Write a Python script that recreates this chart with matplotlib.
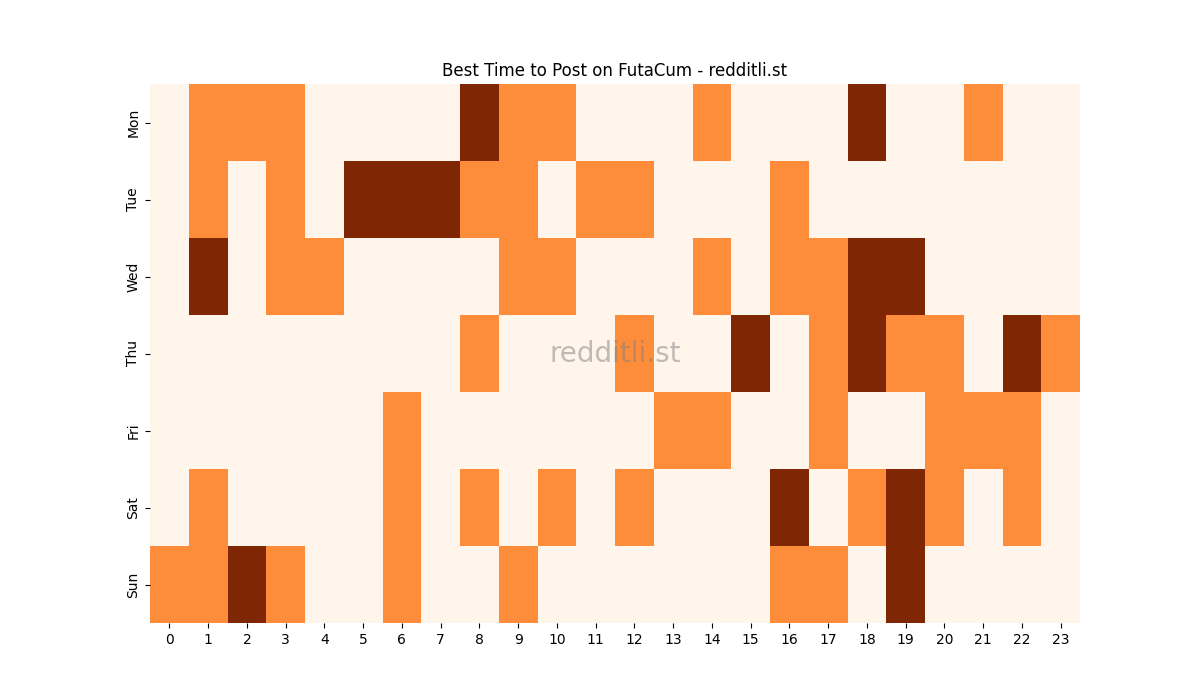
import matplotlib
matplotlib.use('Agg')
import matplotlib.pyplot as plt
import seaborn as sns
import numpy as np

# ── Data: 0 = quiet, 1 = good, 2 = best ──
days = ["Mon", "Tue", "Wed", "Thu", "Fri", "Sat", "Sun"]
hours = list(range(24))

mon = [0, 1, 1, 1, 0, 0, 0, 0, 2, 1, 1, 0, 0, 0, 1, 0, 0, 0, 2, 0, 0, 1, 0, 0]
tue = [0, 1, 0, 1, 0, 2, 2, 2, 1, 1, 0, 1, 1, 0, 0, 0, 1, 0, 0, 0, 0, 0, 0, 0]
wed = [0, 2, 0, 1, 1, 0, 0, 0, 0, 1, 1, 0, 0, 0, 1, 0, 1, 1, 2, 2, 0, 0, 0, 0]
thu = [0, 0, 0, 0, 0, 0, 0, 0, 1, 0, 0, 0, 1, 0, 0, 2, 0, 1, 2, 1, 1, 0, 2, 1]
fri = [0, 0, 0, 0, 0, 0, 1, 0, 0, 0, 0, 0, 0, 1, 1, 0, 0, 1, 0, 0, 1, 1, 1, 0]
sat = [0, 1, 0, 0, 0, 0, 1, 0, 1, 0, 1, 0, 1, 0, 0, 0, 2, 0, 1, 2, 1, 0, 1, 0]
sun = [1, 1, 2, 1, 0, 0, 1, 0, 0, 1, 0, 0, 0, 0, 0, 0, 1, 1, 0, 2, 0, 0, 0, 0]

grid = np.array([mon, tue, wed, thu, fri, sat, sun])

fig, ax = plt.subplots(figsize=(12, 7), dpi=100)
sns.heatmap(grid, cmap='Oranges', cbar=False, ax=ax,
            xticklabels=hours, yticklabels=days)
ax.set_yticklabels(days, rotation=90, va='center')
ax.set_xticklabels(hours, rotation=0)
ax.set_title('Best Time to Post on FutaCum - redditli.st')

# watermark
ax.text(0.5, 0.5, 'redditli.st', transform=ax.transAxes,
        ha='center', va='center', fontsize=20, color='gray', alpha=0.5)

plt.savefig('out.png', dpi=100)
